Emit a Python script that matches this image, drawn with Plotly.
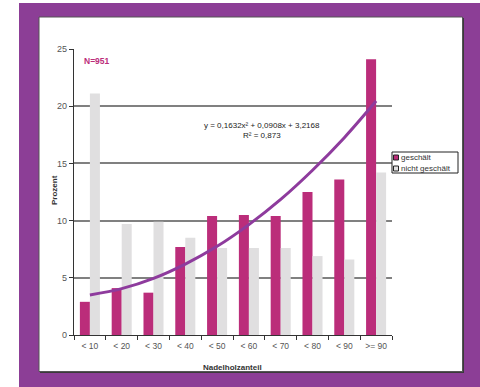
import plotly.graph_objects as go

categories = ["< 10", "< 20", "< 30", "< 40", "< 50", "< 60", "< 70", "< 80", "< 90", ">= 90"]
geschaelt = [2.9, 4.1, 3.7, 7.7, 10.4, 10.5, 10.4, 12.5, 13.6, 24.1]
nicht_geschaelt = [21.1, 9.7, 9.9, 8.5, 7.6, 7.6, 7.6, 6.9, 6.6, 14.2]
trend = [3.5, 4.05, 4.95, 6.2, 7.75, 9.65, 11.85, 14.4, 17.25, 20.45]
y_ticks = [0, 5, 10, 15, 20, 25]

W, H = 480, 387
L, R, T, B = 74, 392, 49, 335

def px(x):
    return (x - L) / (R - L)

def py(y):
    return (B - y) / (B - T)

MAG = "#BB2D7A"
GRAY = "#E0DFE0"
PURPLE = "#8C3E96"
LINE = "#8E3B9D"
FONT = "Liberation Sans, Arial, sans-serif"

fig = go.Figure()
fig.add_trace(go.Bar(x=categories, y=geschaelt, name="geschält", marker_color=MAG, marker_line_width=0))
fig.add_trace(go.Bar(x=categories, y=nicht_geschaelt, name="nicht geschält", marker_color=GRAY, marker_line_width=0))
fig.add_trace(go.Scatter(x=categories, y=trend, mode="lines", line=dict(color=LINE, width=3, shape="spline"),
                         showlegend=False, hoverinfo="skip"))

shapes = [
    dict(type="rect", xref="paper", yref="paper", x0=px(19), x1=px(481), y0=py(3), y1=py(388),
         fillcolor=PURPLE, line_width=0, layer="below"),
    dict(type="rect", xref="paper", yref="paper", x0=px(40), x1=px(464), y0=py(18), y1=py(373),
         fillcolor="#3a3a3a", line_width=0, layer="below"),
    dict(type="rect", xref="paper", yref="paper", x0=px(39), x1=px(462.5), y0=py(17), y1=py(371.5),
         fillcolor="white", line=dict(color="#555", width=1), layer="below"),
    # legend box
    dict(type="rect", xref="paper", yref="paper", x0=px(392), x1=px(458), y0=py(152), y1=py(173),
         fillcolor="white", line=dict(color="#222", width=1)),
    dict(type="rect", xref="paper", yref="paper", x0=px(393.5), x1=px(398.5), y0=py(155), y1=py(160),
         fillcolor=MAG, line=dict(color="#222", width=1)),
    dict(type="rect", xref="paper", yref="paper", x0=px(393.5), x1=px(398.5), y0=py(166), y1=py(171),
         fillcolor=GRAY, line=dict(color="#222", width=1)),
]

annotations = [
    dict(text="<b>N=951</b>", xref="paper", yref="paper", x=px(82), y=py(61), xanchor="left", yanchor="middle",
         showarrow=False, font=dict(family=FONT, size=8.5, color=MAG)),
    dict(text="y = 0,1632x² + 0,0908x + 3,2168", xref="paper", yref="paper", x=px(262), y=py(125),
         xanchor="center", yanchor="middle", showarrow=False, font=dict(family=FONT, size=8, color="#222")),
    dict(text="R² = 0,873", xref="paper", yref="paper", x=px(262), y=py(135),
         xanchor="center", yanchor="middle", showarrow=False, font=dict(family=FONT, size=8, color="#222")),
    dict(text="geschält", xref="paper", yref="paper", x=px(399), y=py(157.5), xanchor="left", yanchor="middle",
         showarrow=False, font=dict(family=FONT, size=8, color="#333")),
    dict(text="nicht geschält", xref="paper", yref="paper", x=px(399), y=py(168.5), xanchor="left", yanchor="middle",
         showarrow=False, font=dict(family=FONT, size=8, color="#333")),
    dict(text="<b>Prozent</b>", xref="paper", yref="paper", x=px(54), y=py(190), xanchor="center", yanchor="middle",
         textangle=-90, showarrow=False, font=dict(family=FONT, size=8, color="#333")),
    dict(text="<b>Nadelholzanteil</b>", xref="paper", yref="paper", x=px(232), y=py(367), xanchor="center",
         yanchor="middle", showarrow=False, font=dict(family=FONT, size=8, color="#333")),
]

fig.update_layout(
    width=W, height=H,
    margin=dict(l=L, r=W - R, t=T, b=H - B, pad=0),
    paper_bgcolor="white", plot_bgcolor="rgba(0,0,0,0)",
    barmode="group", bargap=0.37, bargroupgap=0,
    showlegend=False,
    shapes=shapes, annotations=annotations,
    font=dict(family=FONT, size=9, color="#555"),
    xaxis=dict(showline=True, linecolor="#333", linewidth=1.2, ticks="outside", tickson="boundaries",
               ticklen=4, tickcolor="#333", showgrid=False, tickangle=0, ticklabelstandoff=3,
               tickfont=dict(size=8.5, color="#555")),
    yaxis=dict(range=[0, 25], tickvals=y_ticks, showline=True, linecolor="#333", linewidth=1.2,
               ticks="outside", ticklen=4, tickcolor="#333", showgrid=True, gridcolor="#808080", gridwidth=1.5,
               zeroline=False, tickfont=dict(size=9, color="#555")),
)

fig.write_html("out.html")
